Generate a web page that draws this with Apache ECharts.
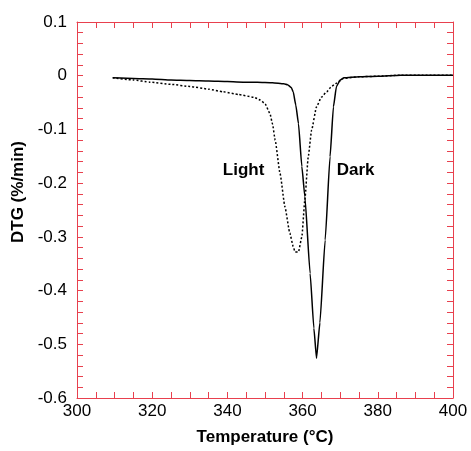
<!DOCTYPE html>
<html>
<head>
<meta charset="utf-8">
<script src="https://cdn.jsdelivr.net/npm/echarts@6/dist/echarts.min.js"></script>
<style>
html,body{margin:0;padding:0;background:#fff;}
#chart{width:471px;height:451px;}
</style>
</head>
<body>
<div id="chart"></div>
<script>
// Dark sample (solid line)
const darkTemp = [309.5, 315, 320, 325, 330, 335, 340, 345, 348, 352, 355, 356, 357, 357.5, 358.2, 358.9, 359.8, 360.6, 362, 363, 363.7, 364.6, 366, 367.3, 368.2, 369, 370, 371, 375, 380, 386, 392, 400];
const darkDTG  = [-0.004, -0.005, -0.006, -0.008, -0.009, -0.010, -0.011, -0.012, -0.012, -0.013, -0.015, -0.017, -0.022, -0.030, -0.055, -0.089, -0.169, -0.225, -0.368, -0.470, -0.526, -0.460, -0.306, -0.151, -0.058, -0.020, -0.008, -0.004, -0.002, -0.001, 0.001, 0.001, 0.001];
// Light sample (dotted line)
const lightTemp = [309.5, 315, 319.4, 325, 330, 335, 338.9, 343, 347, 348.7, 350, 351.3, 352, 352.7, 354, 355.3, 356.6, 357.5, 358, 358.9, 359.8, 360.6, 361.5, 362.4, 363.7, 365, 366.4, 367.7, 369, 370.8, 375, 380, 386, 392, 400];
const lightDTG  = [-0.004, -0.008, -0.012, -0.016, -0.020, -0.025, -0.030, -0.035, -0.040, -0.045, -0.052, -0.070, -0.090, -0.120, -0.182, -0.244, -0.293, -0.318, -0.328, -0.328, -0.300, -0.231, -0.151, -0.101, -0.058, -0.040, -0.030, -0.020, -0.014, -0.005, -0.002, -0.001, 0.001, 0.001, 0.001];
// Annotations
const labelNames = ['Light', 'Dark'];
const labelPos = [[344.3, -0.176], [374.1, -0.176]];
// Axis settings
const xTicks = [300, 320, 340, 360, 380, 400];
const yTicks = [-0.6, -0.5, -0.4, -0.3, -0.2, -0.1, 0, 0.1];

const red = '#e8404e';
const font = 'Liberation Sans, Arial, Helvetica, sans-serif';
const pair = (xs, ys) => xs.map((x, i) => [x, ys[i]]);

const axisCommon = {
  axisLine: {show: true, onZero: false, lineStyle: {color: red, width: 1}},
  axisTick: {show: true, inside: true, length: 6, lineStyle: {color: red, width: 1}},
  minorTick: {show: true, length: 6, lineStyle: {color: red, width: 1}},
  splitLine: {show: false},
  minorSplitLine: {show: false}
};

const chart = echarts.init(document.getElementById('chart'), null, {renderer: 'canvas'});
chart.setOption({
  animation: false,
  backgroundColor: '#fff',
  textStyle: {fontFamily: font},
  grid: {left: 77, top: 22, right: 18, bottom: 53},
  xAxis: [
    Object.assign({}, axisCommon, {
      type: 'value', min: xTicks[0], max: xTicks[xTicks.length - 1], interval: 20,
      minorTick: Object.assign({}, axisCommon.minorTick, {splitNumber: 4}),
      axisLabel: {color: '#000', fontSize: 17, fontFamily: font, margin: 5},
      name: 'Temperature (°C)', nameLocation: 'middle', nameGap: 31,
      nameTextStyle: {color: '#000', fontSize: 17, fontWeight: 'bold', fontFamily: font}
    }),
    Object.assign({}, axisCommon, {
      type: 'value', position: 'top', min: xTicks[0], max: xTicks[xTicks.length - 1], interval: 20,
      minorTick: Object.assign({}, axisCommon.minorTick, {splitNumber: 4}),
      axisLabel: {show: false}
    })
  ],
  yAxis: [
    Object.assign({}, axisCommon, {
      type: 'value', min: yTicks[0], max: yTicks[yTicks.length - 1], interval: 0.1,
      minorTick: Object.assign({}, axisCommon.minorTick, {splitNumber: 5}),
      axisLabel: {color: '#000', fontSize: 17, fontFamily: font, margin: 10,
        formatter: v => Math.abs(v) < 1e-9 ? '0' : v.toFixed(1)},
      name: 'DTG (%/min)', nameLocation: 'middle', nameGap: 49,
      nameTextStyle: {color: '#000', fontSize: 17, fontWeight: 'bold', fontFamily: font, padding: [0, 0, 0, 36]}
    }),
    Object.assign({}, axisCommon, {
      type: 'value', position: 'right', min: yTicks[0], max: yTicks[yTicks.length - 1], interval: 0.1,
      minorTick: Object.assign({}, axisCommon.minorTick, {splitNumber: 5}),
      axisLabel: {show: false}
    })
  ],
  series: [
    {
      name: 'Light', type: 'line', data: pair(lightTemp, lightDTG),
      showSymbol: false, smooth: 0.15, smoothMonotone: 'x',
      lineStyle: {color: '#000', width: 1.5, type: [2, 2]},
      markPoint: {
        symbol: 'circle', symbolSize: 0,
        label: {show: true, position: 'inside', color: '#000', fontSize: 17, fontWeight: 'bold', fontFamily: font, formatter: p => p.name},
        data: [{name: labelNames[0], coord: labelPos[0]}]
      }
    },
    {
      name: 'Dark', type: 'line', data: pair(darkTemp, darkDTG),
      showSymbol: false, smooth: 0.15, smoothMonotone: 'x',
      lineStyle: {color: '#000', width: 1.5},
      markPoint: {
        symbol: 'circle', symbolSize: 0,
        label: {show: true, position: 'inside', color: '#000', fontSize: 17, fontWeight: 'bold', fontFamily: font, formatter: p => p.name},
        data: [{name: labelNames[1], coord: labelPos[1]}]
      }
    }
  ]
});
</script>
</body>
</html>
